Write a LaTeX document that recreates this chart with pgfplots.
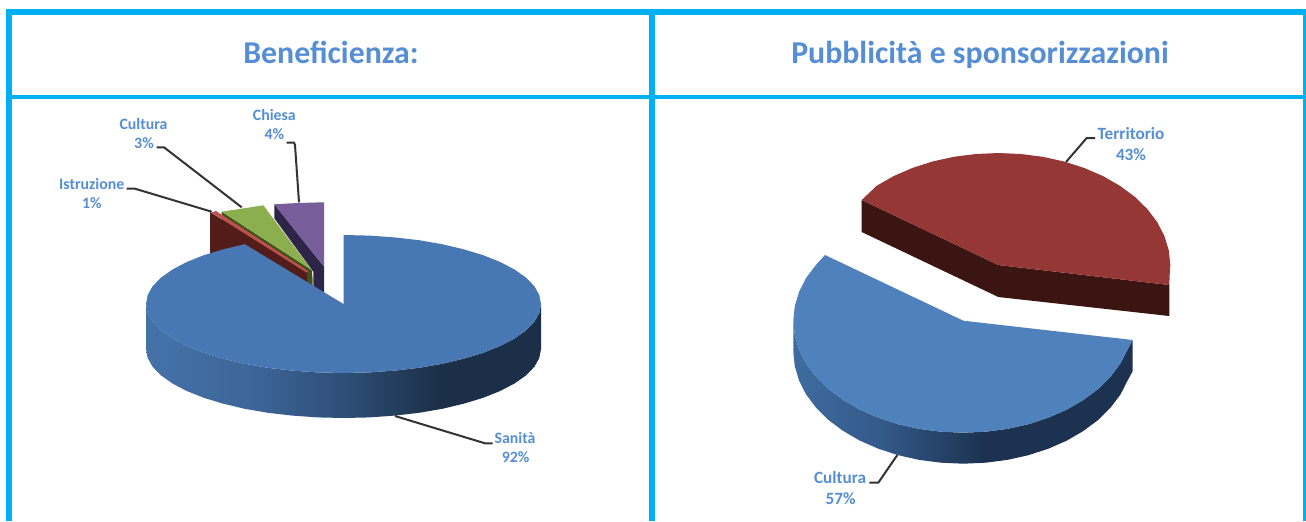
\documentclass[border=0pt]{standalone}
\usepackage{pgfplots}
\pgfplotsset{compat=1.18}
\usepackage{fontspec}
\setmainfont{Carlito}
\definecolor{bord}{HTML}{00B0F0}
\definecolor{txt}{HTML}{558ED5}
\definecolor{blueA}{HTML}{4878B4}
\definecolor{blueB}{HTML}{4F81BD}
\definecolor{darkbrown}{HTML}{3B1512}
\definecolor{redtop}{HTML}{953735}
\definecolor{lead}{HTML}{333333}
\pgfdeclarehorizontalshading{wallOne}{100bp}{rgb(0bp)=(0.267,0.447,0.659);rgb(25bp)=(0.267,0.447,0.659);rgb(38bp)=(0.24,0.40,0.60);rgb(50bp)=(0.18,0.31,0.47);rgb(62bp)=(0.106,0.188,0.282);rgb(100bp)=(0.106,0.188,0.282)}
\pgfdeclarehorizontalshading{wallTwo}{100bp}{rgb(0bp)=(0.247,0.424,0.624);rgb(25bp)=(0.247,0.424,0.624);rgb(38bp)=(0.20,0.35,0.54);rgb(53bp)=(0.11,0.196,0.314);rgb(100bp)=(0.11,0.196,0.314)}
\newcommand{\lab}[1]{{\fontsize{8.6}{10}\selectfont\bfseries #1}}
\newcommand{\labs}[1]{{\fontsize{7.9}{10}\selectfont\bfseries #1}}
\newcommand{\ttl}[1]{{\fontsize{15.9}{17}\selectfont\bfseries #1}}
\begin{document}
\begin{tikzpicture}
\begin{axis}[scale only axis,width=653pt,height=260.5pt,xmin=0,xmax=1306,ymin=0,ymax=521,y dir=reverse,hide axis,clip=true]
\addplot[fill=white,draw=none] coordinates {(0,0)(1306,0)(1306,521)(0,521)} -- cycle;
% table borders
\addplot[fill=bord,draw=none] coordinates {(6,9)(1306,9)(1306,15)(6,15)} -- cycle;
\addplot[fill=bord,draw=none] coordinates {(6,95)(1306,95)(1306,99)(6,99)} -- cycle;
\addplot[fill=bord,draw=none] coordinates {(6,9)(12,9)(12,521)(6,521)} -- cycle;
\addplot[fill=bord,draw=none] coordinates {(649,9)(655,9)(655,521)(649,521)} -- cycle;
\addplot[fill=bord,draw=none] coordinates {(1303,9)(1306,9)(1306,521)(1303,521)} -- cycle;
% leaders, pie 1
\addplot[lead,line width=1pt] coordinates {(286.7,142.7)(294,142.7)(295,145)(299,202.3)};
\addplot[lead,line width=1pt] coordinates {(156.7,147.3)(164,147.3)(241.7,207.3)};
\addplot[lead,line width=1pt] coordinates {(126.7,188.7)(135,188.7)(211.7,211.7)};
\addplot[lead,line width=1pt] coordinates {(395,416)(485,443.3)(492.7,443.3)};
% small slices, pie 1
\addplot[fill={rgb,255:red,46;green,36;blue,72},draw=none] coordinates {(274.3,204.3)(274.3,218.3)(313.3,271.7)(313.3,300)(324,300)(324,266.7)} -- cycle;
\addplot[fill={rgb,255:red,119;green,93;blue,154},draw=none] coordinates {(274.3,204.3)(290,203.4)(305,202.8)(324,202.3)(324,266.7)} -- cycle;
\addplot[fill={rgb,255:red,62;green,82;blue,28},draw=none] coordinates {(221.7,211.7)(311.7,270)(312.7,280)(312.7,315)(221.7,256.7)} -- cycle;
\addplot[fill={rgb,255:red,140;green,174;blue,78},draw=none] coordinates {(221.7,211.7)(240,208.9)(263.3,205.3)(311.7,270)} -- cycle;
\addplot[fill={rgb,255:red,82;green,28;blue,24},draw=none] coordinates {(210,212)(307,272)(307,317)(210,257)} -- cycle;
\addplot[fill={rgb,255:red,192;green,80;blue,77},draw=none] coordinates {(211.5,212.5)(216,211)(308,271)(306.5,272.5)} -- cycle;
% big slice, pie 1
\addplot[shading=wallOne,draw=none] coordinates {(146,304)(147.7,313)(152.7,321.9)(161,330.4)(172.5,338.5)(186.8,346)(203.8,352.8)(223.3,358.7)(244.75,363.8)(267.9,367.8)(292.4,370.6)(317.7,372.4)(343.5,373)(369.3,372.4)(394.6,370.6)(419.1,367.8)(442.25,363.8)(463.7,358.7)(483.2,352.8)(500.2,346)(514.5,338.5)(526,330.4)(534.3,321.9)(539.3,313)(541,304)(541,349)(539.3,358)(534.3,366.9)(526,375.4)(514.5,383.5)(500.2,391)(483.2,397.8)(463.7,403.7)(442.25,408.8)(419.1,412.8)(394.6,415.6)(369.3,417.4)(343.5,418)(317.7,417.4)(292.4,415.6)(267.9,412.8)(244.75,408.8)(223.3,403.7)(203.8,397.8)(186.8,391)(172.5,383.5)(161,375.4)(152.7,366.9)(147.7,358)(146,349)} -- cycle;
\addplot[fill=blueA,draw=none] coordinates {(343.5,304)(343.5,235)(369.3,235.6)(394.6,237.4)(419.1,240.2)(442.25,244.2)(463.7,249.3)(483.2,255.2)(500.2,262)(514.5,269.5)(526,277.6)(534.3,286.1)(539.3,295)(541,304)(539.3,313)(534.3,321.9)(526,330.4)(514.5,338.5)(500.2,346)(483.2,352.8)(463.7,358.7)(442.25,363.8)(419.1,367.8)(394.6,370.6)(369.3,372.4)(343.5,373)(317.7,372.4)(292.4,370.6)(267.9,367.8)(244.75,363.8)(223.3,358.7)(203.8,352.8)(186.8,346)(172.5,338.5)(161,330.4)(152.7,321.9)(147.7,313)(146,304)(147.7,295)(152.7,286.1)(161,277.6)(172.5,269.5)(186.8,262)(203.8,255.2)(223.3,249.3)(244.75,244.2)} -- cycle;
% leaders, pie 2
\addplot[lead,line width=1pt] coordinates {(1066,162)(1086.7,138)(1095,138)};
\addplot[lead,line width=1pt] coordinates {(897.3,455)(878.3,482.7)(869.3,482.7)};
% pie 2, red
\addplot[fill=darkbrown,draw=none] coordinates {(861.7,200)(998.3,265)(1169.3,285)(1169.3,316)(998.3,297)(861.7,232)} -- cycle;
\addplot[fill=redtop,draw=none] coordinates {(998.3,265)(861.7,200)(876.7,185.8)(893.6,176.1)(912.3,168)(932.5,161.5)(953.8,156.8)(975.9,154)(998.3,153)(1020.7,154)(1042.8,156.8)(1064.1,161.5)(1084.3,168)(1103,176.1)(1119.9,185.8)(1134.8,196.8)(1147.3,209)(1157.2,222.1)(1164.4,236)(1168.8,250.4)(1170.3,265)(1169.8,272)(1169.3,285)} -- cycle;
% pie 2, blue
\addplot[shading=wallTwo,draw=none] coordinates {(793.3,320.7)(794.8,335.3)(799.1,349.7)(806.2,363.6)(816.1,376.7)(828.4,388.9)(843.1,399.9)(859.8,409.6)(878.3,417.7)(898.2,424.2)(919.3,428.9)(941.1,431.7)(963.3,432.7)(985.5,431.7)(1007.3,428.9)(1028.4,424.2)(1048.3,417.7)(1066.8,409.6)(1083.5,399.9)(1098.2,388.9)(1110.5,376.7)(1120.4,363.6)(1127.5,349.7)(1132.7,340)(1132.7,371)(1127.5,380.7)(1120.4,394.6)(1110.5,407.7)(1098.2,419.9)(1083.5,430.9)(1066.8,440.6)(1048.3,448.7)(1028.4,455.2)(1007.3,459.9)(985.5,462.7)(963.3,463.7)(941.1,462.7)(919.3,459.9)(898.2,455.2)(878.3,448.7)(859.8,440.6)(843.1,430.9)(828.4,419.9)(816.1,407.7)(806.2,394.6)(799.1,380.7)(794.8,366.3)(793.3,351.7)} -- cycle;
\addplot[fill=blueB,draw=none] coordinates {(963.3,320.7)(825,255)(816.1,264.7)(806.2,277.8)(799.1,291.7)(794.8,306.1)(793.3,320.7)(794.8,335.3)(799.1,349.7)(806.2,363.6)(816.1,376.7)(828.4,388.9)(843.1,399.9)(859.8,409.6)(878.3,417.7)(898.2,424.2)(919.3,428.9)(941.1,431.7)(963.3,432.7)(985.5,431.7)(1007.3,428.9)(1028.4,424.2)(1048.3,417.7)(1066.8,409.6)(1083.5,399.9)(1098.2,388.9)(1110.5,376.7)(1120.4,363.6)(1127.5,349.7)(1132.7,340)} -- cycle;
% text
\node[txt,anchor=base] at (axis cs:331,63) {\ttl{Beneficienza:}};
\node[txt,anchor=base] at (axis cs:980,63) {\ttl{Pubblicità e sponsorizzazioni}};
\node[txt] at (axis cs:143.5,124.3) {\labs{Cultura}};
\node[txt] at (axis cs:144,142.7) {\labs{3\%}};
\node[txt] at (axis cs:274.3,115) {\labs{Chiesa}};
\node[txt] at (axis cs:274.3,134) {\labs{4\%}};
\node[txt] at (axis cs:91.7,184.3) {\labs{Istruzione}};
\node[txt] at (axis cs:92,203.3) {\labs{1\%}};
\node[txt] at (axis cs:515,438.3) {\labs{Sanità}};
\node[txt] at (axis cs:515.7,457.3) {\labs{92\%}};
\node[txt] at (axis cs:1131,134) {\lab{Territorio}};
\node[txt] at (axis cs:1131,154.3) {\lab{43\%}};
\node[txt] at (axis cs:840,478) {\lab{Cultura}};
\node[txt] at (axis cs:840.7,498.3) {\lab{57\%}};
\end{axis}
\end{tikzpicture}
\end{document}
